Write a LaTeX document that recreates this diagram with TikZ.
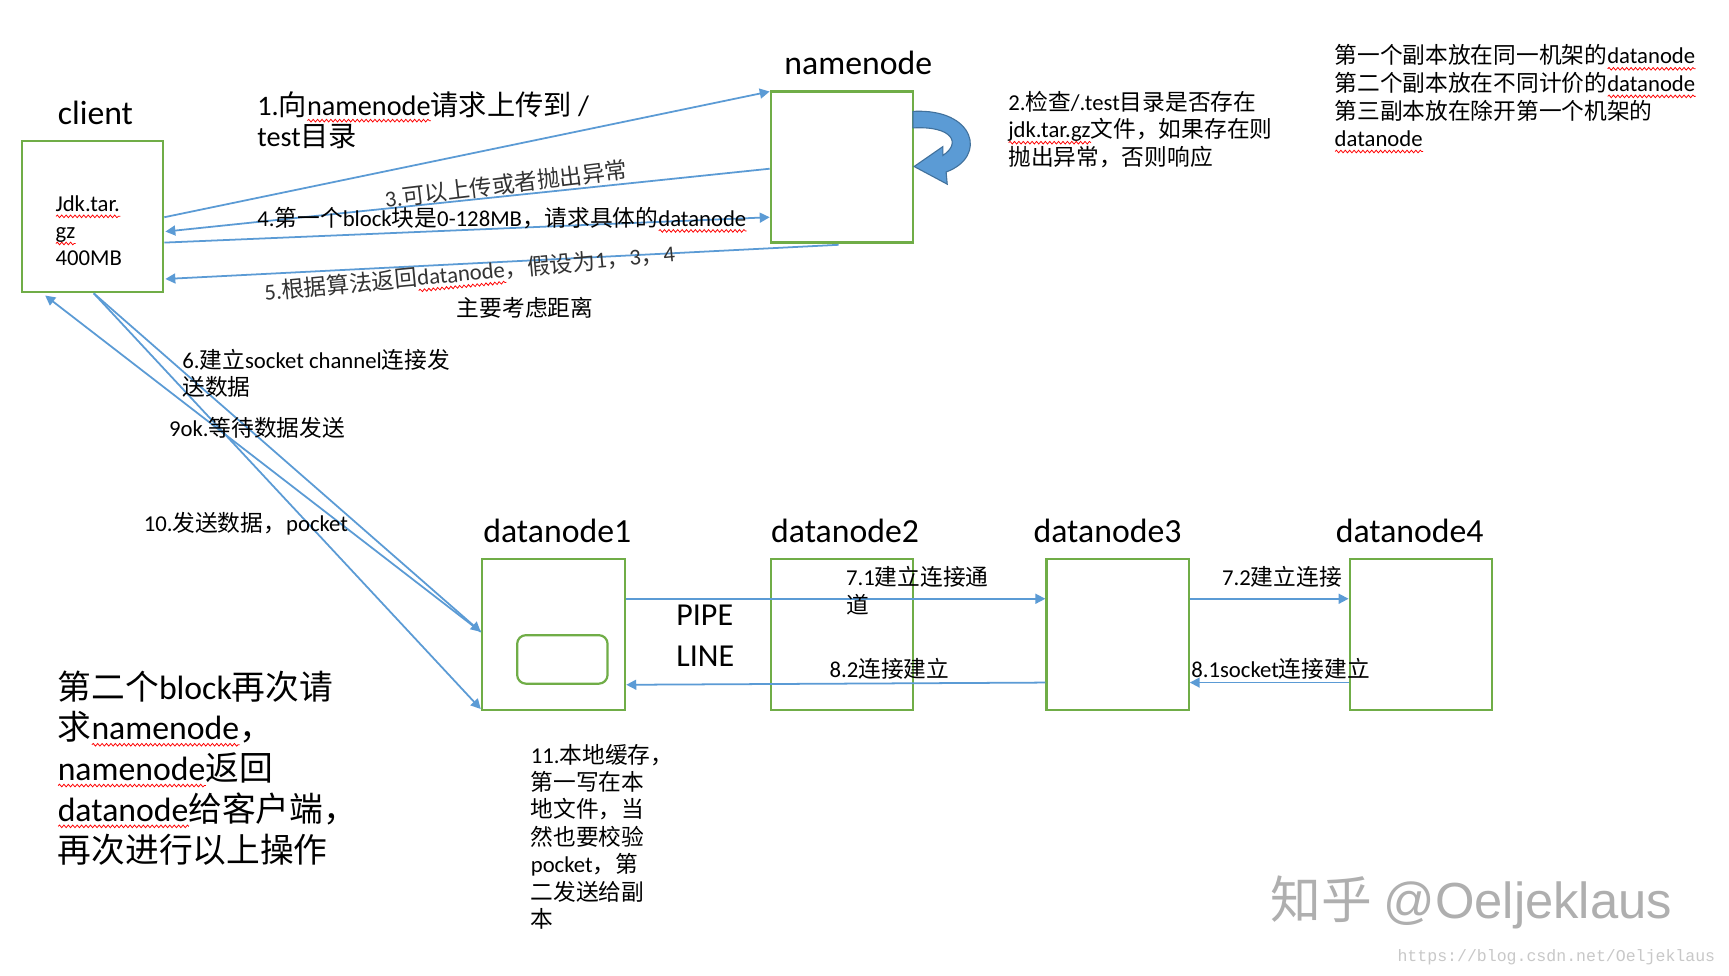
\documentclass[tikz,border=0pt]{standalone}
\usepackage{fontspec}
\usetikzlibrary{arrows.meta,calc,decorations.pathmorphing}
\setmainfont{Carlito}
\newfontfamily\cjkf{Noto Sans CJK SC}
\newfontfamily\latf{Carlito}
\newfontfamily\wmf{Liberation Sans}
\newfontfamily\urlf{Liberation Mono}
\newdimen\sqw
\newsavebox\sqbox
\newcommand\sq[1]{\sbox\sqbox{#1}\sqw=\wd\sqbox\rlap{\tikz[baseline=0pt,x=1pt,y=1pt]\draw[red,line width=0.35pt,decorate,decoration={snake,amplitude=0.6pt,segment length=2pt}] (0,-2.2) -- (\sqw,-2.2);}\usebox\sqbox}
\XeTeXinterchartokenstate=1
\newXeTeXintercharclass\CJKcls
\newcount\cjkc
\cjkc="2E80
\loop\ifnum\cjkc<"A000 \XeTeXcharclass\cjkc=\CJKcls \advance\cjkc by 1 \repeat
\cjkc="FF00
\loop\ifnum\cjkc<"FFF0 \XeTeXcharclass\cjkc=\CJKcls \advance\cjkc by 1 \repeat
\XeTeXinterchartoks 0 \CJKcls={\cjkf}
\XeTeXinterchartoks 4095 \CJKcls={\cjkf}
\XeTeXinterchartoks \CJKcls 0={\latf}
\XeTeXinterchartoks \CJKcls 4095={\latf}
\definecolor{lblue}{RGB}{91,155,213}
\definecolor{dblue}{RGB}{65,113,156}
\definecolor{lgreen}{RGB}{112,173,71}
\definecolor{wmgray}{RGB}{175,175,175}
\definecolor{urlgray}{RGB}{200,200,200}
\tikzset{
 box/.style={draw=lgreen, line width=1pt, inner sep=0pt},
 conn/.style={draw=lblue, line width=0.8pt, -{Triangle[length=4.5pt,width=4.5pt]}},
 lab/.style={inner sep=0pt, anchor=base west, align=left, font=\fontsize{10.3}{12.5}\selectfont},
 title/.style={inner sep=0pt, anchor=base west, align=left, font=\fontsize{15.3}{18}\selectfont},
}
\begin{document}
\begin{tikzpicture}[x=0.5pt,y=-0.5pt]
\path[use as bounding box] (0,0) rectangle (1568,885);
\fill[white] (0,0) rectangle (1568,885);
% boxes
\node[box, minimum width=64pt, minimum height=68.5pt] (client) at (84,196.5) {};
\node[box, minimum width=64.5pt, minimum height=68.5pt] (nn) at (763.5,151.5) {};
\node[box, minimum width=65pt, minimum height=68.5pt] (dn1) at (502,575.5) {};
\node[box, minimum width=64.5pt, minimum height=68.5pt] (dn2) at (763.5,575.5) {};
\node[box, minimum width=64.5pt, minimum height=68.5pt] (dn3) at (1013.5,575.5) {};
\node[box, minimum width=64.5pt, minimum height=68.5pt] (dn4) at (1288.5,575.5) {};
\node[box, rounded corners=4pt, minimum width=41pt, minimum height=22pt] (buf) at (510,598) {};
% self arrow of namenode
\filldraw[fill=lblue, draw=dblue, line width=0.5pt] (828,101) .. controls (884,98) and (896,142) .. (858,156) -- (859,167) -- (829,151) -- (855,133) -- (855,141) .. controls (872,130) and (864,114) .. (828,116) -- cycle;
% connectors
\draw[conn] ($(client.east)+(0,0.5)$) -- ($(nn.north west)+(0,1)$);
\draw[conn] ($(nn.west)+(0,1.5)$) -- ($(client.east)+(1,13.5)$);
\draw[conn] ($(client.east)+(0,23.5)$) -- ($(nn.west)+(0,45.5)$);
\draw[conn] ($(nn.south)+(-3,1)$) -- ($(client.east)+(1,56.5)$);
\draw[conn] ($(client.south)+(1,0)$) -- ($(dn1.west)+(0,-2.5)$);
\draw[conn] ($(dn1.west)+(0,-2.5)$) -- ($(client.south west)+(22,2)$);
\draw[conn] ($(client.south)+(1,0)$) -- ($(dn1.south west)+(0,-2)$);
\draw[conn] ($(dn1.east)+(0,-32.5)$) -- ($(dn3.west)+(0,-32.5)$);
\draw[conn] ($(dn3.east)+(0,-32.5)$) -- ($(dn4.west)+(0,-32.5)$);
\draw[conn] ($(dn4.west)+(0,43.5)$) -- ($(dn3.east)+(0,43.5)$);
\draw[conn] ($(dn3.west)+(0,43.5)$) -- ($(dn1.east)+(0,45.5)$);
% titles
\node[title] (clientT) at (52,113) {client};
\node[title] (nnT) at (711,68) {namenode};
\node[title] (dn1T) at (438,492) {datanode1};
\node[title] (dn2T) at (699,492) {datanode2};
\node[title] (dn3T) at (937,492) {datanode3};
\node[title] (dn4T) at (1211,492) {datanode4};
\node[title, font=\fontsize{14.5}{18.5}\selectfont] (pipe) at (613,604) {PIPE\\LINE};
% labels
\node[lab, font=\fontsize{10.3}{12.3}\selectfont] (file) at (50,241) {\sq{Jdk.tar.}\\\sq{gz}\\400MB};
\node[lab, font=\fontsize{12.8}{14}\selectfont] (l1) at (233,133) {1.向\sq{namenode}请求上传到 /\\test目录};
\node[inner sep=0pt, rotate=7, text=black!80, font=\fontsize{10.3}{12.5}\selectfont] (l3) at (459,167) {3.可以上传或者抛出异常};
\node[lab] (l4) at (233,205) {4.第一个block块是0-128MB，请求具体的\sq{datanode}};
\node[inner sep=0pt, rotate=5.4, text=black!80, font=\fontsize{10.3}{12.5}\selectfont] (l5) at (426,249) {5.根据算法返回\sq{datanode}，假设为1，3，4};
\node[lab] (l5b) at (414,287) {主要考虑距离};
\node[lab] (l2) at (914,150) {2.检查/.test目录是否存在\\\sq{jdk.tar.gz}文件，如果存在则\\抛出异常，否则响应};
\node[lab] (rep) at (1210,133) {第一个副本放在同一机架的\sq{datanode}\\第二个副本放在不同计价的\sq{datanode}\\第三副本放在除开第一个机架的\\\sq{datanode}};
\node[lab] (l6) at (165,359) {6.建立socket channel连接发\\送数据};
\node[lab] (l9) at (153,396) {9ok.等待数据发送};
\node[lab] (l10) at (130,482) {10.发送数据，pocket};
\node[lab] (l71) at (767,556) {7.1建立连接通\\道};
\node[lab] (l72) at (1108,531) {7.2建立连接};
\node[lab] (l82) at (752,614) {8.2连接建立};
\node[lab] (l81) at (1080,614) {8.1socket连接建立};
\node[lab, font=\fontsize{10.3}{12.4}\selectfont] (l11) at (481,841) {11.本地缓存，\\第一写在本\\地文件，当\\然也要校验\\pocket，第\\二发送给副\\本};
\node[lab, font=\fontsize{15.3}{18.5}\selectfont] (big) at (52,782) {第二个block再次请\\求\sq{namenode}，\\\sq{namenode}返回\\\sq{datanode}给客户端，\\再次进行以上操作};
% watermark
\node[inner sep=0pt, anchor=base west, text=wmgray, font=\fontsize{23}{26}\selectfont] (wm) at (1152,833) {知乎 {\wmf @Oeljeklaus}};
\node[inner sep=0pt, anchor=base west, text=urlgray, font=\urlf\fontsize{7.5}{9}\selectfont] (url) at (1267,872) {https://blog.csdn.net/Oeljeklaus};
\end{tikzpicture}
\end{document}
